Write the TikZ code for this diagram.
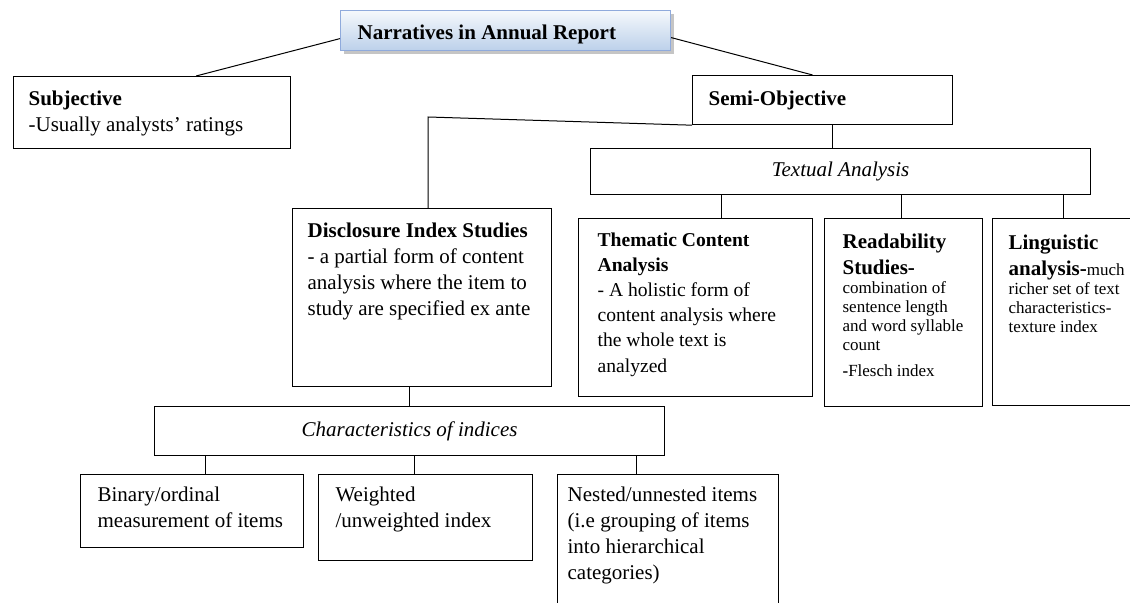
\documentclass[tikz,border=0pt]{standalone}
\usepackage{fontspec}
\setmainfont{Liberation Serif}
\usetikzlibrary{shadows}
\definecolor{titletop}{HTML}{F5F8FC}
\definecolor{titlebot}{HTML}{BCD0EA}
\definecolor{titleline}{HTML}{8FAADC}
\newlength{\pxu}
\setlength{\pxu}{0.5pt}
\newcommand{\boxtext}[5]{\parbox[t][#2\pxu][t]{#1\pxu}{\vspace*{#4\pxu}\raggedright\leftskip=#3\pxu\relax #5\par}}
\newcommand{\smalltxt}{\fontsize{8.5}{9.6}\selectfont}
\tikzset{
    BX/.style ={rectangle, draw, line width=0.6pt, anchor=north west, inner sep=0pt, font=\fontsize{10.5}{13}\selectfont},
    CB/.style ={rectangle, draw, line width=0.6pt, anchor=north west, inner sep=0pt, font=\fontsize{10.5}{13}\selectfont\itshape},
    TT/.style ={rectangle, draw=titleline, line width=0.6pt, anchor=north west, inner sep=0pt, top color=titletop, bottom color=titlebot,
        drop shadow={shadow xshift=1.5pt, shadow yshift=-1.5pt, fill=black!45}, font=\fontsize{10.5}{13}\selectfont\bfseries},
    LN/.style ={line width=0.5pt}}

\begin{document}
\begin{tikzpicture}[x=0.5pt,y=-0.5pt]
        \useasboundingbox (0,0) rectangle (1130,603);
        \node[TT] (1) at(340,10){\boxtext{330}{40}{17}{14}{Narratives in Annual Report}};
        \node[BX] (2) at(13,76){\boxtext{277}{72}{15}{14}{\textbf{Subjective}\\ -Usually analysts' ratings}};
        \node[BX] (3) at(692,75){\boxtext{260}{49}{16}{15}{\textbf{Semi-Objective}}};
        \node[CB, minimum width=250pt, minimum height=23pt] (4) at(590,148){Textual Analysis};
        \node[BX] (5) at(292,208){\boxtext{259}{178}{15}{14}{\textbf{Disclosure Index Studies}\\ - a partial form of content\\ analysis where the item to\\ study are specified ex ante}};
        \node[BX] (6) at(578,218){\boxtext{234}{178}{19}{14}{\fontsize{9.8}{12.6}\selectfont\textbf{Thematic Content}\\ \textbf{Analysis}\\ - A holistic form of\\ content analysis where\\ the whole text is\\ analyzed}};
        \node[BX] (7) at(824,218){\boxtext{158}{188}{18}{15}{\textbf{Readability}\\ \textbf{Studies-}\par{\smalltxt combination of\\ sentence length\\ and word syllable\\ count\\[3pt] \textbf{-}Flesch index\par}}};
        \node[BX] (8) at(992,218){\boxtext{150}{187}{16}{16}{\textbf{Linguistic}\par\vspace{2.5pt}\textbf{analysis-}{\smalltxt much\\ richer set of text\\ characteristics-\\ texture index\par}}};
        \node[CB, minimum width=255pt, minimum height=24.5pt] (9) at(154,406){Characteristics of indices};
        \node[BX] (10) at(80,474){\boxtext{223}{73}{17}{12}{Binary/ordinal\\ measurement of items}};
        \node[BX] (11) at(318,474){\boxtext{214}{86}{17}{12}{Weighted\\ /unweighted index}};
        \node[BX] (12) at(557,474){\boxtext{221}{160}{10}{12}{Nested/unnested items\\ (i.e grouping of items\\ into hierarchical\\ categories)}};
        \coordinate (k) at(428,117);
        \coordinate (c6) at([xshift=13pt]6.north);
        \coordinate (c7) at([xshift=-1pt]7.north);
        \coordinate (c8) at([xshift=-2pt]8.north);
        \coordinate (c10) at([xshift=6.75pt]10.north);
        \coordinate (c11) at([xshift=-5.5pt]11.north);
        \coordinate (c12) at([xshift=-15.75pt]12.north);
        \draw[LN] ([yshift=-4pt]1.west) --([xshift=22pt]2.north);
        \draw[LN] ([yshift=-3.5pt]1.east) --([xshift=-5pt]3.north);
        \draw[LN] ([xshift=5pt]3.south) --([xshift=5pt]3.south |- 4.north);
        \draw[LN] (3.south west) --(k) --(k |- 5.north);
        \draw[LN] (4.south -| c6) --(c6);
        \draw[LN] (4.south -| c7) --(c7);
        \draw[LN] (4.south -| c8) --(c8);
        \draw[LN] (5.south -| 9.north) --(9.north);
        \draw[LN] (9.south -| c10) --(c10);
        \draw[LN] (9.south -| c11) --(c11);
        \draw[LN] (9.south -| c12) --(c12);
    \end{tikzpicture}
\end{document}
